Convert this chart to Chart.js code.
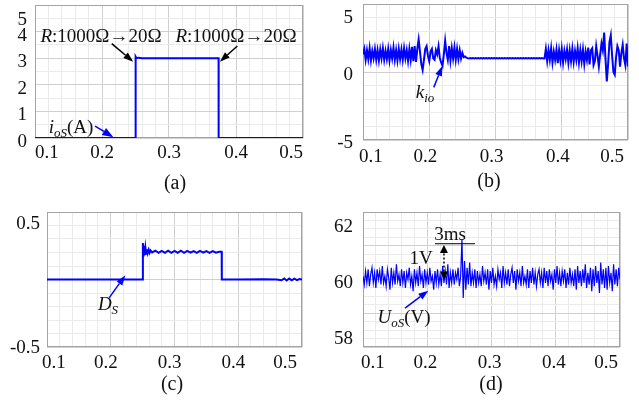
<!DOCTYPE html>
<html>
<head>
<meta charset="utf-8">
<script src="https://cdn.jsdelivr.net/npm/chart.js@4.4.1/dist/chart.umd.min.js"></script>
<style>
  body { margin: 0; background: #fff; }
  #fig { position: relative; width: 639px; height: 404px; overflow: hidden;
         font-family: 'Liberation Serif', 'Times New Roman', serif; color: #111; }
  #fig canvas { position: absolute; }
  .t { position: absolute; transform: translate(-50%, -50%); white-space: nowrap;
       font-size: 19px; line-height: 1; }
  .t sub { font-size: 13px; vertical-align: -0.3em; }
  .cap { font-size: 20px; }
</style>
</head>
<body>
<div id="fig">
  <canvas id="ca" width="320" height="170" style="left:0;top:0"></canvas>
  <canvas id="cb" width="319" height="170" style="left:320px;top:0"></canvas>
  <canvas id="cc" width="320" height="204" style="left:0;top:200px"></canvas>
  <canvas id="cd" width="319" height="204" style="left:320px;top:200px"></canvas>

  <div class="t" style="left:101px;top:35px"><i>R</i>:1000Ω→20Ω</div>
  <div class="t" style="left:236px;top:35px"><i>R</i>:1000Ω→20Ω</div>
  <div class="t" style="left:71px;top:128px"><i>i</i><sub><i>oS</i></sub>(A)</div>
  <div class="t" style="left:425px;top:93px"><i>k</i><sub><i>io</i></sub></div>
  <div class="t" style="left:108px;top:305px"><i>D</i><sub><i>S</i></sub></div>
  <div class="t" style="left:404px;top:318px"><i>U</i><sub><i>oS</i></sub>(V)</div>
  <div class="t" style="left:450px;top:233px">3ms</div>
  <div class="t" style="left:421px;top:257px">1V</div>

  <div class="t cap" style="left:175px;top:182px">(a)</div>
  <div class="t cap" style="left:489px;top:180px">(b)</div>
  <div class="t cap" style="left:172px;top:383px">(c)</div>
  <div class="t cap" style="left:491px;top:383px">(d)</div>
</div>

<script>
// four stacked time plots, time axis in s

const el = (id) => document.getElementById(id);

const SERIF = "'Liberation Serif', 'Times New Roman', serif";
const BLUE = '#0000ff';
const MAJOR = '#d0d0d0';
const MINOR = '#ebebeb';
const FRAME = '#a4a4a4';

// shared time axis grid
const xGrid = [0.1, 0.12, 0.14, 0.16, 0.18, 0.2, 0.22, 0.24, 0.26, 0.28, 0.3,
               0.32, 0.34, 0.36, 0.38, 0.4, 0.42, 0.44, 0.46, 0.48, 0.5];
const xMajor = [0.1, 0.2, 0.3, 0.4, 0.5];
const xLabels = [0.1, 0.2, 0.3, 0.4, 0.5];

// (a) output current i_oS
const aTime = [0.1, 0.25, 0.2502, 0.2515, 0.254, 0.26, 0.3, 0.374, 0.3741, 0.5];
const aCurrent = [0, 0, 3.06, 3.0, 3.02, 3.0, 3.0, 3.0, 0, 0];
const yGridA = [0, 0.5, 1, 1.5, 2, 2.5, 3, 3.5, 4, 4.5, 5];
const yMajorA = [0, 1, 2, 3, 4, 5];
const yLabelsA = [0, 1, 2, 3, 4, 5];

// (b) k_io, sampled every 2 ms from 0.1 s
const bStart = 0.1;
const bStep = 0.002;
const bKio = [
  1.3, 1.7, 0.9, 1.6, 0.95, 1.75, 0.85, 1.55, 1.0, 1.7,
  0.9, 1.6, 0.85, 1.65, 1.0, 1.75, 0.9, 1.55, 0.95, 1.7,
  0.85, 1.6, 1.0, 1.8, 0.9, 1.6, 0.85, 1.7, 0.95, 1.65,
  0.9, 1.75, 1.0, 1.6, 0.8, 1.7, 0.9, 1.85, 0.8, 1.9,
  0.75, 1.7, 2.4, 1.5, 0.6, 0.15, 0.9, 1.7, 1.9, 1.2,
  0.8, 1.5, 1.7, 1.0, 0.9, 1.6, 1.3, 1.9, 1.0, 0.7,
  0.45, 1.3, 2.3, 1.4, 0.9, 1.9, 0.85, 1.75, 1.0, 1.8,
  0.9, 1.7, 0.95, 1.6, 1.0, 1.4, 1.1, 1.15, 1.05, 1.02,
  1.0, 1.02, 1.0, 1.02, 1.0, 1.02, 1.0, 1.02, 1.0, 1.02,
  1.0, 1.02, 1.0, 1.02, 1.0, 1.02, 1.0, 1.02, 1.0, 1.02,
  1.0, 1.02, 1.0, 1.02, 1.0, 1.02, 1.0, 1.02, 1.0, 1.02,
  1.0, 1.02, 1.0, 1.02, 1.0, 1.02, 1.0, 1.02, 1.0, 1.02,
  1.0, 1.02, 1.0, 1.02, 1.0, 1.02, 1.0, 1.02, 1.0, 1.02,
  1.0, 1.02, 1.0, 1.02, 1.0, 1.02, 1.0, 1.0, 1.7, 0.8,
  1.6, 0.9, 1.75, 0.7, 1.5, 0.9, 1.65, 0.65, 1.6, 0.85,
  1.7, 0.7, 1.55, 0.95, 1.65, 0.7, 1.6, 0.8, 1.7, 0.75,
  1.55, 0.9, 1.75, 0.7, 1.6, 0.8, 1.65, 0.6, 1.5, 0.9,
  1.8, 0.55, 1.6, 1.75, 0.5, 0.8, 1.9, 1.2, 0.4, 1.3,
  2.1, 1.6, 2.9, 1.0, -0.7, 0.6, 2.2, 2.7, 1.2, 0.0,
  -0.2, 1.1, 1.9, 1.6, 0.4, 1.4, 2.0, 1.0, 0.5, 2.1,
  0.4
];
const yGridB = [-5, -4, -3, -2, -1, 0, 1, 2, 3, 4, 5];
const yMajorB = [-5, 0, 5];
const yLabelsB = [-5, 0, 5];

// (c) D_S
const cTime = [0.1, 0.25, 0.2504, 0.2514, 0.2524, 0.2534, 0.2544, 0.2556, 0.2568, 0.258,
               0.2595, 0.261, 0.2625, 0.265, 0.27, 0.275, 0.28, 0.285, 0.29, 0.295,
               0.3, 0.305, 0.31, 0.315, 0.32, 0.325, 0.33, 0.335, 0.34, 0.345,
               0.35, 0.355, 0.36, 0.365, 0.37, 0.374, 0.3742, 0.4, 0.44, 0.46,
               0.468, 0.472, 0.476, 0.48, 0.484, 0.488, 0.492, 0.496, 0.5];
const cDs = [0, 0, 0.27, 0.17, 0.25, 0.18, 0.235, 0.19, 0.225, 0.195,
             0.22, 0.198, 0.215, 0.2, 0.213, 0.198, 0.212, 0.197, 0.213, 0.198,
             0.212, 0.197, 0.213, 0.198, 0.212, 0.199, 0.211, 0.198, 0.212, 0.199,
             0.21, 0.198, 0.211, 0.199, 0.205, 0.205, 0, 0, 0.002, 0,
             -0.006, 0.008, -0.008, 0.007, -0.006, 0.006, -0.005, 0.003, 0];
const yGridC = [-0.5, -0.4, -0.3, -0.2, -0.1, 0, 0.1, 0.2, 0.3, 0.4, 0.5];
const yMajorC = [-0.5, 0, 0.5];
const yLabelsC = [-0.5, 0.5];

// (d) U_oS, sampled every 2 ms from 0.1 s
const dStart = 0.1;
const dStep = 0.002;
const dUos = [
  60.1, 59.85, 60.25, 59.9, 60.3, 59.8, 60.15, 60.35, 59.9, 60.2,
  59.75, 60.3, 60.0, 60.25, 59.85, 60.4, 59.9, 60.1, 59.8, 60.3,
  60.05, 59.7, 60.35, 59.9, 60.2, 59.85, 60.45, 59.95, 60.15, 59.8,
  60.3, 59.9, 60.25, 59.75, 60.2, 60.0, 60.35, 59.85, 60.1, 59.65,
  60.3, 59.9, 60.2, 59.8, 60.4, 59.95, 60.15, 59.75, 60.3, 59.9,
  60.2, 59.85, 60.35, 59.95, 60.1, 59.7, 60.25, 59.9, 60.3, 59.85,
  60.15, 59.8, 60.4, 59.9, 60.25, 59.85, 60.45, 59.75, 60.2, 59.9,
  60.3, 59.85, 60.2, 60.0, 60.35, 59.8, 60.1, 61.2, 59.45, 60.55,
  59.7, 60.35, 59.85, 60.5, 59.8, 60.2, 59.9, 60.3, 59.75, 60.25,
  59.9, 60.15, 59.8, 60.4, 59.95, 60.2, 59.85, 60.3, 59.7, 60.25,
  59.9, 60.35, 59.85, 60.1, 59.8, 60.3, 60.0, 60.2, 59.75, 60.4,
  59.9, 60.2, 59.85, 60.3, 59.8, 60.15, 60.35, 59.9, 60.25, 59.7,
  60.3, 59.95, 60.2, 59.8, 60.4, 59.9, 60.1, 59.85, 60.3, 59.75,
  60.25, 59.9, 60.35, 59.85, 60.2, 59.8, 60.15, 60.3, 59.9, 60.2,
  59.75, 60.35, 59.9, 60.25, 59.8, 60.3, 59.95, 60.15, 59.7, 60.3,
  59.9, 60.4, 59.85, 60.2, 59.8, 60.25, 59.95, 60.3, 59.75, 60.2,
  59.85, 60.35, 59.9, 60.15, 59.8, 60.3, 59.7, 60.4, 59.9, 60.25,
  59.8, 60.3, 59.9, 60.45, 59.75, 60.2, 59.85, 60.35, 59.65, 60.3,
  59.8, 60.4, 59.9, 60.25, 59.6, 60.5, 59.85, 60.3, 59.75, 60.35,
  59.7, 60.4, 59.9, 60.2, 59.65, 60.45, 59.85, 60.3, 59.8, 60.35,
  60.0
];
const yGridD = [58, 58.25, 58.5, 58.75, 59, 59.25, 59.5, 59.75, 60,
                60.25, 60.5, 60.75, 61, 61.25, 61.5, 61.75, 62];
const yMajorD = [58, 59, 60, 61, 62];
const yLabelsD = [58, 60, 62];

const isIn = (v, list) => list.some((u) => Math.abs(u - v) < 1e-9);

function pairs(times, values) {
  return values.map((v, i) => ({ x: times[i], y: v }));
}

function sampled(start, step, values) {
  return values.map((v, i) => ({ x: start + i * step, y: v }));
}

// box round the plot area
const framePlugin = {
  id: 'frame',
  beforeDatasetsDraw(chart) {
    const { ctx, chartArea: a } = chart;
    ctx.save();
    ctx.strokeStyle = FRAME;
    ctx.lineWidth = 1;
    ctx.strokeRect(Math.round(a.left) + 0.5, Math.round(a.top) + 0.5,
      Math.round(a.right - a.left) - 1, Math.round(a.bottom - a.top) - 1);
    ctx.restore();
  },
};

function head(ctx, xt, yt, ang, len, wid) {
  ctx.beginPath();
  ctx.moveTo(xt, yt);
  ctx.lineTo(xt - len * Math.cos(ang) + wid / 2 * Math.sin(ang), yt - len * Math.sin(ang) - wid / 2 * Math.cos(ang));
  ctx.lineTo(xt - len * Math.cos(ang) - wid / 2 * Math.sin(ang), yt - len * Math.sin(ang) + wid / 2 * Math.cos(ang));
  ctx.closePath();
  ctx.fill();
}

// arrows given in data units, placed through the chart scales
function arrowsPlugin(items) {
  return {
    id: 'arrows',
    afterDatasetsDraw(chart) {
      const { ctx, scales: { x, y } } = chart;
      items.forEach((a) => {
        const x0 = x.getPixelForValue(a.from[0]);
        const y0 = y.getPixelForValue(a.from[1]);
        const x1 = x.getPixelForValue(a.to[0]);
        const y1 = y.getPixelForValue(a.to[1]);
        const ang = Math.atan2(y1 - y0, x1 - x0);
        const len = a.len || 10;
        const wid = a.wid || 7;
        ctx.save();
        ctx.strokeStyle = a.color;
        ctx.fillStyle = a.color;
        ctx.lineWidth = a.lw || 1.5;
        if (a.dash) ctx.setLineDash(a.dash);
        const sx = a.both ? x0 + len * Math.cos(ang) : x0;
        const sy = a.both ? y0 + len * Math.sin(ang) : y0;
        const ex = a.noHead ? x1 : x1 - len * Math.cos(ang);
        const ey = a.noHead ? y1 : y1 - len * Math.sin(ang);
        ctx.beginPath();
        ctx.moveTo(sx, sy);
        ctx.lineTo(ex, ey);
        ctx.stroke();
        ctx.setLineDash([]);
        if (!a.noHead) head(ctx, x1, y1, ang, len, wid);
        if (a.both) head(ctx, x0, y0, ang + Math.PI, len, wid);
        ctx.restore();
      });
    },
  };
}

function panel(id, p) {
  return new Chart(el(id), {
    type: 'line',
    data: {
      datasets: [{
        data: p.points,
        borderColor: BLUE,
        borderWidth: p.lw,
        pointRadius: 0,
        tension: 0,
        fill: false,
      }],
    },
    options: {
      responsive: false,
      animation: false,
      events: [],
      layout: { padding: { left: 0, top: p.top, right: p.right, bottom: 0 } },
      plugins: { legend: { display: false }, tooltip: { enabled: false } },
      scales: {
        x: {
          type: 'linear',
          min: 0.1,
          max: 0.5,
          afterBuildTicks: (s) => { s.ticks = xGrid.map((v) => ({ value: v })); },
          afterFit: (s) => { s.height = p.xh; s.paddingLeft = 0; s.paddingRight = 0; },
          border: { display: false },
          grid: { color: (c) => (isIn(c.tick.value, xMajor) ? MAJOR : MINOR), drawTicks: false },
          ticks: {
            autoSkip: false,
            maxRotation: 0,
            align: 'inner',
            padding: p.xpad,
            labelOffset: p.xoff,
            color: '#111',
            font: { family: SERIF, size: 19 },
            callback: (v) => (isIn(v, xLabels) ? String(v) : ''),
          },
        },
        y: {
          type: 'linear',
          min: p.ymin,
          max: p.ymax,
          afterBuildTicks: (s) => { s.ticks = p.yGrid.map((v) => ({ value: v })); },
          afterFit: (s) => { s.width = p.yw; s.paddingTop = 0; s.paddingBottom = 0; },
          border: { display: false },
          grid: { color: (c) => (isIn(c.tick.value, p.yMajor) ? MAJOR : MINOR), drawTicks: false },
          ticks: {
            autoSkip: false,
            padding: p.ypad,
            labelOffset: p.yoff,
            color: '#111',
            font: { family: SERIF, size: 19, lineHeight: 1.2 },
            callback: (v) => {
              if (!isIn(v, p.yLabels)) return '';
              if (Math.abs(v - p.ymax) < 1e-9) return ['', String(v)];
              if (p.liftBottom && Math.abs(v - p.ymin) < 1e-9) return [String(v), ''];
              return String(v);
            },
          },
        },
      },
    },
    plugins: [framePlugin, arrowsPlugin(p.arrows)],
  });
}

panel('ca', {
  points: pairs(aTime, aCurrent), lw: 2,
  top: 5, right: 17, xh: 32, yw: 35,
  xpad: 4, xoff: 0, ypad: 8, yoff: 4,
  ymin: 0, ymax: 5, yGrid: yGridA, yMajor: yMajorA, yLabels: yLabelsA,
  arrows: [
    { from: [0.2145, 3.55], to: [0.2466, 2.87], color: '#000' },
    { from: [0.402, 3.46], to: [0.376, 2.87], color: '#000' },
    { from: [0.1896, 0.45], to: [0.2169, 0.03], color: BLUE, len: 11, wid: 8 },
  ],
});

panel('cb', {
  points: sampled(bStart, bStep, bKio), lw: 2,
  top: 4, right: 11, xh: 30, yw: 43,
  xpad: 6, xoff: -4, ypad: 10, yoff: 3,
  ymin: -5, ymax: 5, yGrid: yGridB, yMajor: yMajorB, yLabels: yLabelsB,
  arrows: [
    { from: [0.2068, -1.13], to: [0.2198, 0.44], color: BLUE },
  ],
});

panel('cc', {
  points: pairs(cTime, cDs), lw: 2,
  top: 12, right: 18, xh: 57, yw: 47,
  xpad: 5, xoff: -5, ypad: 7, yoff: 1,
  ymin: -0.5, ymax: 0.5, yGrid: yGridC, yMajor: yMajorC, yLabels: yLabelsC,
  arrows: [
    { from: [0.1977, -0.134], to: [0.2229, 0.031], color: BLUE },
  ],
});

panel('cd', {
  points: sampled(dStart, dStep, dUos), lw: 1.2,
  top: 12, right: 19, xh: 57, yw: 43,
  xpad: 5, xoff: -2, ypad: 10, yoff: 3.5, liftBottom: true,
  ymin: 58, ymax: 62, yGrid: yGridD, yMajor: yMajorD, yLabels: yLabelsD,
  arrows: [
    { from: [0.1654, 59.15], to: [0.2016, 59.67], color: BLUE },
    { from: [0.212, 61.06], to: [0.2743, 61.06], color: '#000', lw: 1, noHead: true },
    { from: [0.226, 60.0], to: [0.226, 61.02], color: '#000', lw: 1.5, both: true,
      dash: [2, 2], len: 8, wid: 8 },
  ],
});
</script>
</body>
</html>
